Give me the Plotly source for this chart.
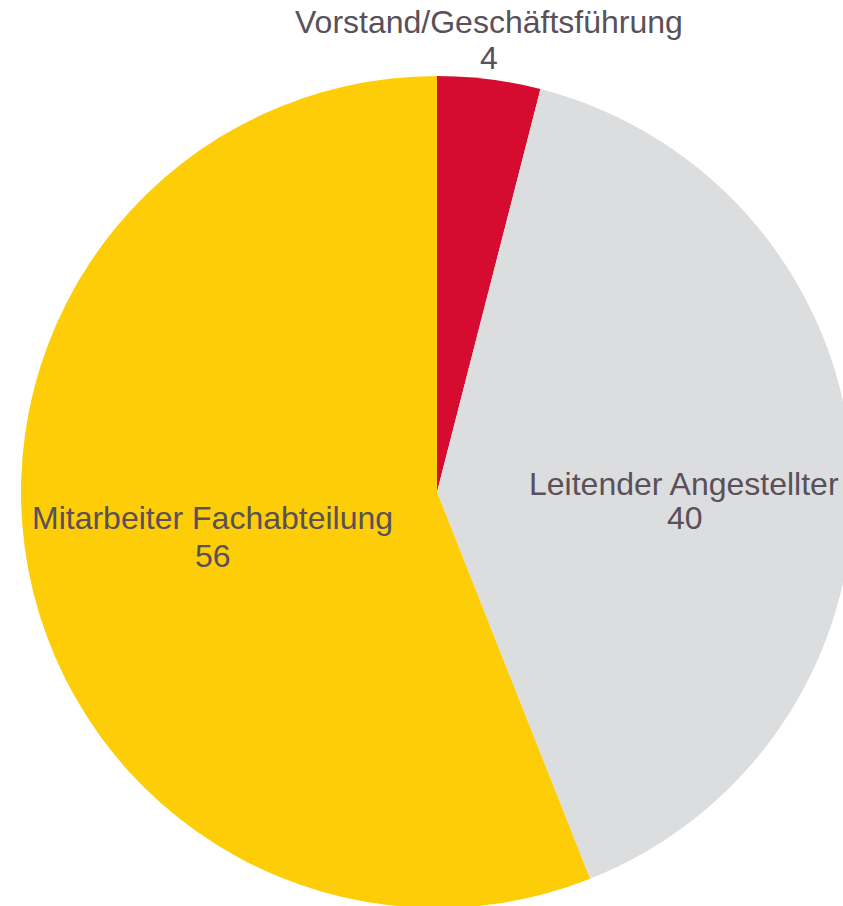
import plotly.graph_objects as go

# Data
labels = ["Vorstand/Geschäftsführung", "Leitender Angestellter", "Mitarbeiter Fachabteilung"]
values = [4, 40, 56]
colors = ["#D50C2F", "#DCDDDF", "#FDCE07"]

# Figure canvas (larger than the window so the pie is clipped like the reference)
W, H = 874, 984
cx, cy, R = 437, 492, 416  # pie centre / radius in pixels (from top-left)

# Label placement (pixel centres of each text line: name line, value line)
label_pos = [
    ((488.5, 21.5), (488.5, 57.5)),
    ((684.0, 483.5), (685.0, 518.5)),
    ((212.0, 518.5), (212.5, 556.0)),
]

fig = go.Figure(
    go.Pie(
        labels=labels,
        values=values,
        marker=dict(colors=colors, line=dict(width=0)),
        sort=False,
        direction="clockwise",
        rotation=0,
        textinfo="none",
        showlegend=False,
        domain=dict(
            x=[(cx - R) / W, (cx + R) / W],
            y=[(H - cy - R) / H, (H - cy + R) / H],
        ),
    )
)

font = dict(family="Liberation Sans, Arial, sans-serif", size=32, color="#595059")
for lab, val, (p1, p2) in zip(labels, values, label_pos):
    for txt, (px, py) in ((lab, p1), (str(val), p2)):
        fig.add_annotation(
            text=txt, x=px / W, y=(H - py) / H, xref="paper", yref="paper",
            xanchor="center", yanchor="middle", showarrow=False, font=font,
        )

fig.update_layout(
    width=W, height=H,
    margin=dict(l=0, r=0, t=0, b=0),
    paper_bgcolor="white", plot_bgcolor="white",
)

fig.write_html(
    "out.html",
    config={"displayModeBar": False},
    post_script="document.body.style.margin='0';document.body.style.overflow='hidden';",
)
